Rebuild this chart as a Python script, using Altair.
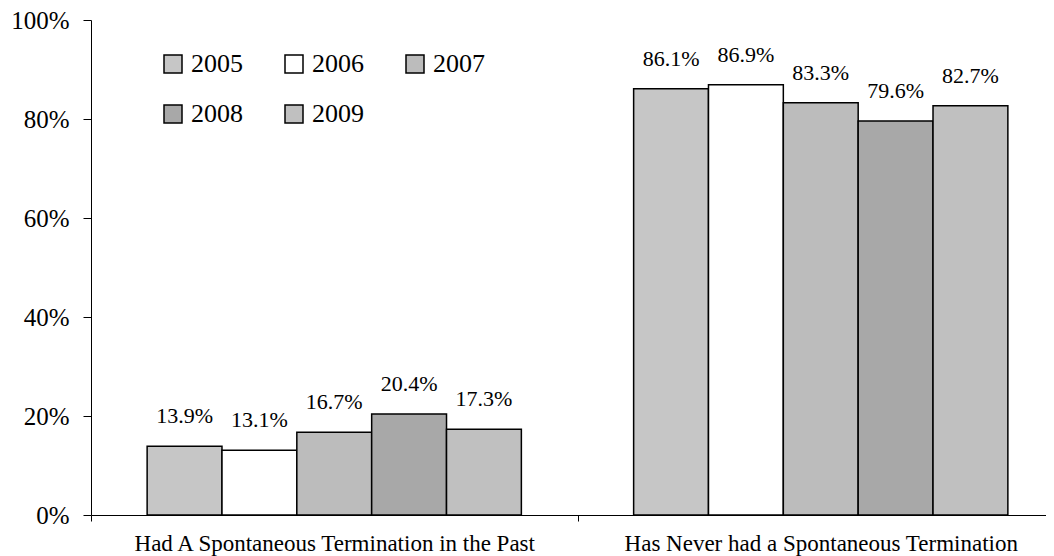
import altair as alt
import pandas as pd

categories = ["Had A Spontaneous Termination in the Past", "Has Never had a Spontaneous Termination"]
years = ["2005", "2006", "2007", "2008", "2009"]
had_values = [13.9, 13.1, 16.7, 20.4, 17.3]
never_values = [86.1, 86.9, 83.3, 79.6, 82.7]
year_colors = ["#c6c6c6", "#ffffff", "#bcbcbc", "#a8a8a8", "#c0c0c0"]
y_ticks = [0, 0.2, 0.4, 0.6, 0.8, 1.0]

rows = []
for cat, vals in zip(categories, [had_values, never_values]):
    for yr, v in zip(years, vals):
        rows.append({"category": cat, "year": yr, "value": v / 100})
df = pd.DataFrame(rows)

FONT = "'Liberation Serif', 'Times New Roman', serif"

base = alt.Chart(df).encode(
    x=alt.X(
        "category:N",
        sort=categories,
        scale=alt.Scale(range=[0, 973], paddingInner=0, paddingOuter=0),
        axis=alt.Axis(
            title=None,
            labelAngle=0,
            labelFont=FONT,
            labelFontSize=23,
            labelColor="black",
            labelPadding=11,
            labelLimit=600,
            tickBand="extent",
            tickSize=6,
            tickColor="black",
            domainColor="black",
            grid=False,
        ),
    ),
    xOffset=alt.XOffset("year:N", sort=years, scale=alt.Scale(paddingInner=0, paddingOuter=0.75)),
    y=alt.Y(
        "value:Q",
        scale=alt.Scale(domain=[0, 1]),
        axis=alt.Axis(
            title=None,
            values=y_ticks,
            format="%",
            labelFont=FONT,
            labelFontSize=25,
            labelColor="black",
            labelPadding=14,
            tickSize=8,
            tickColor="black",
            domainColor="black",
            grid=False,
        ),
    ),
)

bars = base.mark_bar(stroke="black", strokeWidth=1.5).encode(
    color=alt.Color(
        "year:N",
        sort=years,
        scale=alt.Scale(domain=years, range=year_colors),
        legend=alt.Legend(
            orient="none",
            legendX=69,
            legendY=31,
            direction="horizontal",
            columns=3,
            symbolType="square",
            symbolSize=324,
            symbolStrokeColor="black",
            symbolStrokeWidth=1.5,
            symbolOpacity=1,
            labelFont=FONT,
            labelFontSize=26,
            labelColor="black",
            labelOffset=5,
            columnPadding=38,
            rowPadding=24,
            padding=0,
            title=None,
        ),
    )
)

labels = base.mark_text(
    baseline="alphabetic", dy=-23, font=FONT, fontSize=22, color="black"
).encode(text=alt.Text("value:Q", format=".1%"))

chart = (
    alt.layer(bars, labels)
    .properties(
        width=955,
        height=495,
        autosize=alt.AutoSizeParams(type="none"),
        padding={"left": 83, "top": 12, "right": 0, "bottom": 41},
    )
    .configure_view(strokeWidth=0)
)

chart.save("out.html", embed_options={"renderer": "svg", "actions": False})
